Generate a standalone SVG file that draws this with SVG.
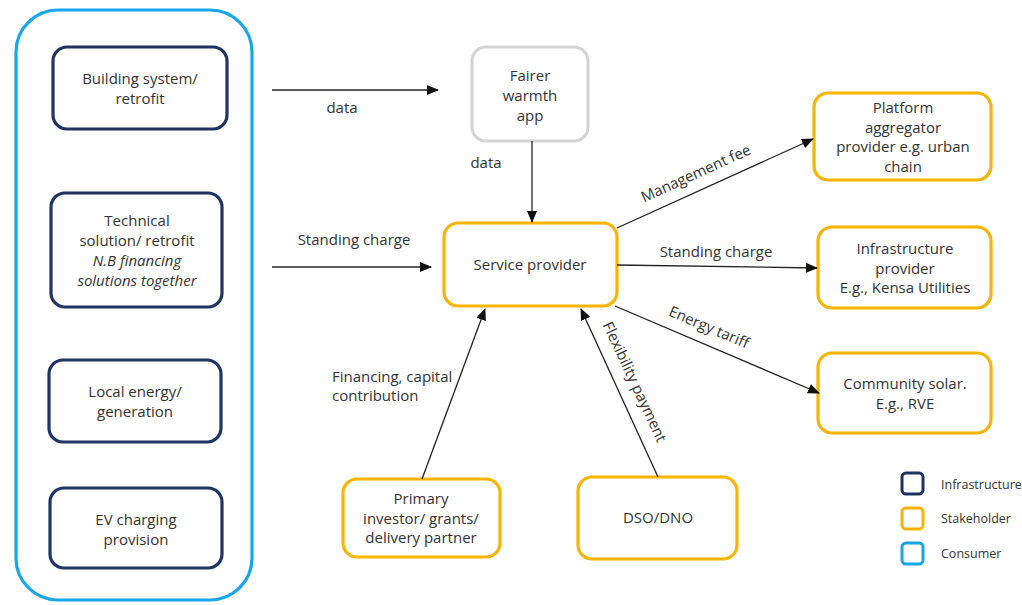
<svg xmlns="http://www.w3.org/2000/svg" width="1022" height="605" viewBox="0 0 1022 605">
<style>
text{font-family:"Open Sans","Noto Sans",sans-serif;font-size:15px;fill:#333;text-anchor:middle}
.infra{fill:#fff;stroke:#1f3462;stroke-width:3.2}
.stake{fill:#fff;stroke:#f9b400;stroke-width:3.2}
.cons{fill:none;stroke:#16a6ea;stroke-width:3.2}
.app{fill:#fff;stroke:#d3d3d3;stroke-width:3}
.ln{stroke:#222;stroke-width:1.3;fill:none;marker-end:url(#ah)}
.lab{font-size:15px}
.lg{font-size:12.5px;text-anchor:start}
</style>
<defs>
<marker id="ah" viewBox="0 0 12 10" refX="11" refY="5" markerWidth="12" markerHeight="10" markerUnits="userSpaceOnUse" orient="auto">
<path d="M0,0 L12,5 L0,10 Z" fill="#111"/>
</marker>
</defs>
<rect width="1022" height="605" fill="#fff"/>
<g id="consumer">
<rect class="cons" x="16" y="10" width="236" height="590" rx="42"/>
</g>
<g id="building">
<rect class="infra" x="53" y="47" width="174" height="82" rx="14"/>
<text x="140" y="84">Building system/</text>
<text x="140" y="104">retrofit</text>
</g>
<g id="technical">
<rect class="infra" x="51" y="193" width="171" height="114" rx="14"/>
<text x="137" y="226">Technical</text>
<text x="137" y="246">solution/ retrofit</text>
<text x="137" y="266" font-style="italic">N.B financing</text>
<text x="137" y="286" font-style="italic">solutions together</text>
</g>
<g id="local">
<rect class="infra" x="49" y="360" width="172" height="82" rx="14"/>
<text x="135" y="397">Local energy/</text>
<text x="135" y="417">generation</text>
</g>
<g id="ev">
<rect class="infra" x="50" y="488" width="172" height="80" rx="14"/>
<text x="136" y="525">EV charging</text>
<text x="136" y="545">provision</text>
</g>
<g id="app">
<rect class="app" x="472" y="47" width="116" height="94" rx="14"/>
<text x="530" y="81">Fairer</text>
<text x="530" y="101">warmth</text>
<text x="530" y="121">app</text>
</g>
<g id="service">
<rect class="stake" x="444" y="223" width="173" height="83" rx="14"/>
<text x="530" y="270">Service provider</text>
</g>
<g id="platform">
<rect class="stake" x="814" y="93" width="177" height="87" rx="14"/>
<text x="903" y="113">Platform</text>
<text x="903" y="133">aggregator</text>
<text x="903" y="152">provider e.g. urban</text>
<text x="903" y="172">chain</text>
</g>
<g id="infraprov">
<rect class="stake" x="818" y="227" width="173" height="81" rx="14"/>
<text x="905" y="254">Infrastructure</text>
<text x="905" y="274">provider</text>
<text x="905" y="293">E.g., Kensa Utilities</text>
</g>
<g id="solar">
<rect class="stake" x="818" y="353" width="173" height="80" rx="14"/>
<text x="905" y="389">Community solar.</text>
<text x="905" y="409">E.g., RVE</text>
</g>
<g id="primary">
<rect class="stake" x="343" y="479" width="157" height="78" rx="14"/>
<text x="421" y="504">Primary</text>
<text x="421" y="524">investor/ grants/</text>
<text x="421" y="543">delivery partner</text>
</g>
<g id="dso">
<rect class="stake" x="578" y="477" width="159" height="82" rx="14"/>
<text x="658" y="523">DSO/DNO</text>
</g>
<g id="connectors">
<line class="ln" x1="272" y1="90" x2="438" y2="90"/>
<line class="ln" x1="532" y1="141" x2="532" y2="222"/>
<line class="ln" x1="272" y1="267" x2="431" y2="267"/>
<line class="ln" x1="617" y1="228" x2="813" y2="139"/>
<line class="ln" x1="617" y1="265" x2="817" y2="268"/>
<line class="ln" x1="615" y1="306" x2="819" y2="393"/>
<line class="ln" x1="422" y1="479" x2="485" y2="309"/>
<line class="ln" x1="658" y1="477" x2="581" y2="309"/>
</g>
<g id="labels">
<text class="lab" x="342" y="113">data</text>
<text class="lab" x="486" y="168">data</text>
<text class="lab" x="354" y="245">Standing charge</text>
<text class="lab" x="716" y="257">Standing charge</text>
<text class="lab" transform="translate(698,178) rotate(-24.4)">Management fee</text>
<text class="lab" transform="translate(707,332) rotate(23)">Energy tariff</text>
<text class="lab" transform="translate(630,384) rotate(65)">Flexibility payment</text>
<text class="lab" x="332" y="382" style="text-anchor:start">Financing, capital</text>
<text class="lab" x="332" y="401" style="text-anchor:start">contribution</text>
</g>
<g id="legend">
<rect x="902" y="473" width="21" height="21" rx="4" fill="#fff" stroke="#1f3462" stroke-width="3"/>
<rect x="902" y="508" width="21" height="21" rx="4" fill="#fff" stroke="#f9b400" stroke-width="3"/>
<rect x="902" y="543" width="21" height="21" rx="4" fill="#fff" stroke="#16a6ea" stroke-width="3"/>
<text class="lg" x="941" y="489">Infrastructure</text>
<text class="lg" x="941" y="523">Stakeholder</text>
<text class="lg" x="941" y="558">Consumer</text>
</g>
</svg>
